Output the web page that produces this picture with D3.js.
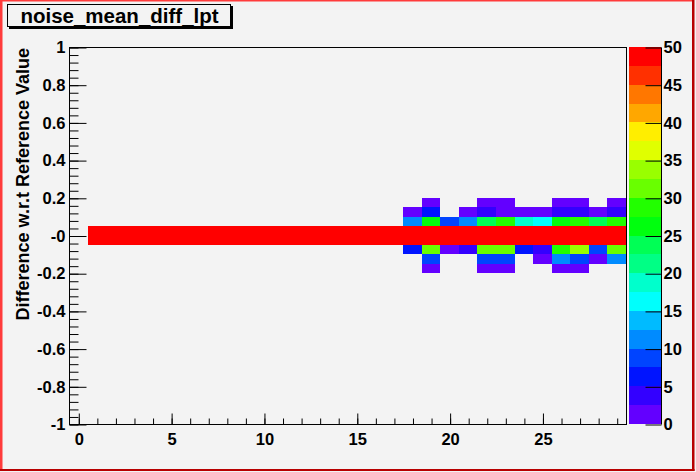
<!DOCTYPE html>
<html><head><meta charset="utf-8">
<script src="https://cdn.jsdelivr.net/npm/d3@7"></script>
<style>html,body{margin:0;padding:0;background:#f3f3f3;}svg{display:block;}text{font-family:"Liberation Sans",Arial,sans-serif;font-weight:bold;}</style>
</head><body>
<script>
// ---- data ----
const title = "noise_mean_diff_lpt";
const yTitle = "Difference w.r.t Reference Value";
const xBins = d3.range(0, 30);                 // bin centres 0..29
const yBinLow = [0.15, 0.10, 0.05, 0.00, -0.05, -0.10, -0.15, -0.20];
const yBinWidth = 0.05;
const rowA = [0,0,0,0,0,0,0,0,0,0,0,0,0,0,0,0,0,0,0,1,0,0,1,1,0,0,1,1,0,1];
const rowB = [0,0,0,0,0,0,0,0,0,0,0,0,0,0,0,0,0,0,1,6,0,1,3,1,1,1,3,3,1,3];
const rowC = [0,0,0,0,0,0,0,0,0,0,0,0,0,0,0,0,0,0,11,26,8,11,23,28,18,16,26,28,23,28];
const rowD = [0,50,50,50,50,50,50,50,50,50,50,50,50,50,50,50,50,50,50,50,50,50,50,50,50,50,50,50,50,50];
const rowE = [0,50,50,50,50,50,50,50,50,50,50,50,50,50,50,50,50,50,50,50,50,50,50,50,50,50,50,50,50,50];
const rowF = [0,0,0,0,0,0,0,0,0,0,0,0,0,0,0,0,0,0,6,31,1,3,31,31,6,3,28,33,8,31];
const rowG = [0,0,0,0,0,0,0,0,0,0,0,0,0,0,0,0,0,0,0,8,0,0,8,8,0,1,11,8,1,11];
const rowH = [0,0,0,0,0,0,0,0,0,0,0,0,0,0,0,0,0,0,0,1,0,0,1,1,0,0,1,1,0,0];
const counts = [rowA,rowB,rowC,rowD,rowE,rowF,rowG,rowH];
const xTickValues = [0,5,10,15,20,25];
const xTickLabels = ["0","5","10","15","20","25"];
const yTickValues = [-1,-0.8,-0.6,-0.4,-0.2,0,0.2,0.4,0.6,0.8,1];
const yTickLabels = ["-1","-0.8","-0.6","-0.4","-0.2","-0","0.2","0.4","0.6","0.8","1"];
const zTickValues = [0,5,10,15,20,25,30,35,40,45,50];
const zTickLabels = ["0","5","10","15","20","25","30","35","40","45","50"];
const palette = ["#6300ff","#3300ff","#0014ff","#0044ff","#008bff","#00bbff","#00fffc","#00ffcc",
                 "#00ff85","#00ff55","#00ff0e","#22ff00","#69ff00","#99ff00","#e0ff00","#ffee00",
                 "#ffa700","#ff7700","#ff3000","#ff0000"];

// ---- drawing ----
const W = 696, H = 472, BG = "#f3f3f3";
const fr = {l:69, r:626, t:47, b:424};
const svg = d3.select("body").append("svg").attr("width", W).attr("height", H);
svg.append("rect").attr("width", W).attr("height", H).attr("fill", BG);

const x = d3.scaleLinear().domain([-0.5, 29.5]).range([fr.l, fr.r]);
const y = d3.scaleLinear().domain([-1, 1]).range([fr.b, fr.t]);
const z = d3.scaleLinear().domain([0, 50]).range([fr.b, fr.t]);
const zLevels = d3.range(1, 20).map(i => i * 2.5);
const color = d3.scaleThreshold().domain(zLevels).range(palette);

// cells
const cells = [];
counts.forEach((row, r) => row.forEach((v, i) => { if (v > 0) cells.push({xc: xBins[i], lo: yBinLow[r], v}); }));
svg.append("g").attr("shape-rendering", "crispEdges").selectAll("rect").data(cells).join("rect")
  .attr("x", d => x(d.xc - 0.5)).attr("width", d => x(d.xc + 0.5) - x(d.xc - 0.5))
  .attr("y", d => y(d.lo + yBinWidth)).attr("height", d => y(d.lo) - y(d.lo + yBinWidth))
  .attr("fill", d => color(d.v));

// frame
svg.append("rect").attr("x", fr.l + 0.5).attr("y", fr.t + 0.5).attr("width", fr.r - fr.l).attr("height", fr.b - fr.t)
  .attr("fill", "none").attr("stroke", "#000").attr("stroke-width", 1);

const fontSize = "16.5px";
// x axis
const gx = svg.append("g").attr("transform", `translate(0.5,${fr.b + 0.5})`);
gx.append("g").call(d3.axisBottom(x).tickValues(d3.range(0, 30)).tickSize(-6).tickFormat(""))
  .call(g => g.select(".domain").remove());
gx.append("g").call(d3.axisBottom(x).tickValues(xTickValues).tickSize(-11).tickPadding(9)
  .tickFormat((d, i) => xTickLabels[i]))
  .call(g => g.select(".domain").remove())
  .call(g => g.selectAll("text").attr("font-size", fontSize).attr("fill", "#000")
    .style("font-family", '"Liberation Sans",Arial,sans-serif').style("font-weight", "bold"));

// y axis
const gy = svg.append("g").attr("transform", `translate(${fr.l + 0.5},0.5)`);
gy.append("g").call(d3.axisLeft(y).tickValues(d3.range(-1, 1.0001, 0.04)).tickSize(-9).tickFormat(""))
  .call(g => g.select(".domain").remove());
gy.append("g").call(d3.axisLeft(y).tickValues(yTickValues).tickSize(-17).tickPadding(4)
  .tickFormat((d, i) => yTickLabels[i]))
  .call(g => g.select(".domain").remove())
  .call(g => g.selectAll("text").attr("font-size", fontSize).attr("fill", "#000")
    .style("font-family", '"Liberation Sans",Arial,sans-serif').style("font-weight", "bold"));

// palette
const pl = 629, pr = 661;
svg.append("g").attr("shape-rendering", "crispEdges").selectAll("rect").data(palette).join("rect")
  .attr("x", pl).attr("width", pr - pl)
  .attr("y", (d, i) => z((i + 1) * 2.5)).attr("height", (d, i) => z(i * 2.5) - z((i + 1) * 2.5))
  .attr("fill", d => d);
const gz = svg.append("g").attr("transform", `translate(${pr + 0.5},0.5)`);
gz.call(d3.axisRight(z).tickValues(zTickValues).tickSize(-16).tickPadding(2)
  .tickFormat((d, i) => zTickLabels[i]))
  .call(g => g.select(".domain").attr("d", `M0,${fr.t}V${fr.b}`))
  .call(g => g.selectAll("text").attr("font-size", fontSize).attr("fill", "#000")
    .style("font-family", '"Liberation Sans",Arial,sans-serif').style("font-weight", "bold"));

// y title
svg.append("text").attr("transform", `translate(29,${fr.t + 1}) rotate(-90)`)
  .attr("text-anchor", "end").attr("font-size", "18px").text(yTitle);

// title box
svg.append("rect").attr("x", 9).attr("y", 6).attr("width", 224).attr("height", 23).attr("fill", "#000");
svg.append("rect").attr("x", 7.5).attr("y", 4.5).attr("width", 223).attr("height", 22)
  .attr("fill", BG).attr("stroke", "#000").attr("stroke-width", 1);
svg.append("text").attr("x", 119.5).attr("y", 23).attr("text-anchor", "middle")
  .attr("font-size", "20.5px").text(title);

// canvas border
svg.append("rect").attr("x", 0).attr("y", 0).attr("width", 694).attr("height", 1.5).attr("fill", "#ff3b3b");
svg.append("rect").attr("x", 0).attr("y", 0).attr("width", 2.5).attr("height", 471).attr("fill", "#ff3b3b");
svg.append("rect").attr("x", 692).attr("y", 0).attr("width", 2.5).attr("height", 471).attr("fill", "#b80000");
svg.append("rect").attr("x", 0).attr("y", 469).attr("width", 694.5).attr("height", 2).attr("fill", "#b80000");
</script>
</body></html>
